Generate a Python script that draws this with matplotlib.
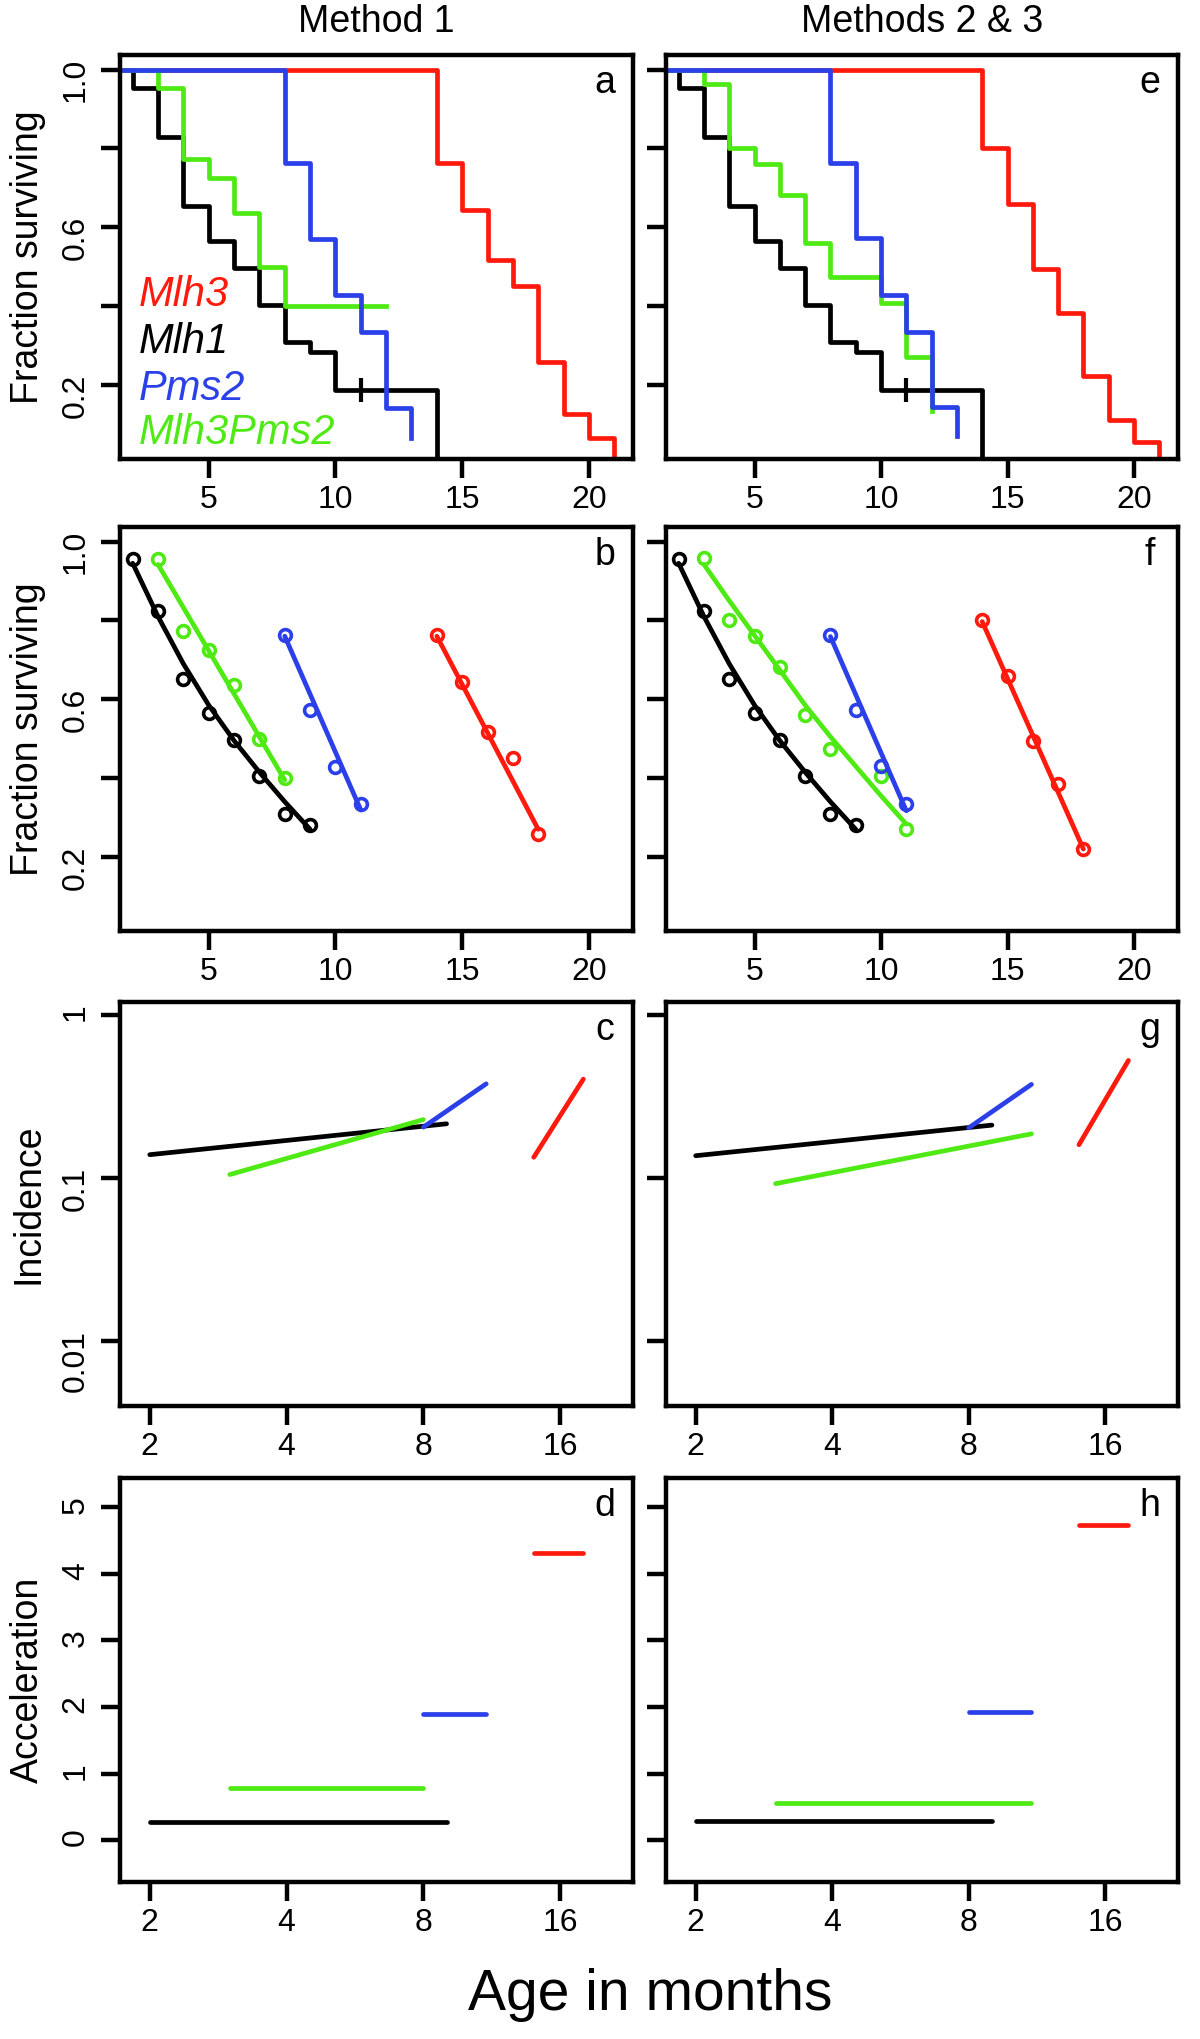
import matplotlib
matplotlib.use('Agg')
import matplotlib.pyplot as plt

plt.rcParams['font.family'] = ['Liberation Sans', 'DejaVu Sans']

RED = '#FF1A0D'
BLACK = '#000000'
BLUE = '#2B40E8'
GREEN = '#4FEA14'

# survival steps, Method 1 (panel a)
a_mlh3_t = [0, 14, 15, 16, 17, 18, 19, 20, 21]
a_mlh3_s = [1.0, 0.763, 0.643, 0.517, 0.452, 0.258, 0.126, 0.066, 0.0]
a_mlh1_t = [0, 2, 3, 4, 5, 6, 7, 8, 9, 10, 14]
a_mlh1_s = [1.0, 0.954, 0.828, 0.655, 0.566, 0.496, 0.403, 0.309, 0.283, 0.187, 0.0]
a_pms2_t = [0, 8, 9, 10, 11, 12, 13]
a_pms2_s = [1.0, 0.763, 0.571, 0.428, 0.334, 0.141, 0.066]
a_dbl_t = [0, 3, 4, 5, 6, 7, 8, 12]
a_dbl_s = [1.0, 0.954, 0.773, 0.726, 0.637, 0.499, 0.40, 0.40]

# survival steps, Methods 2 & 3 (panel e)
e_mlh3_t = [0, 14, 15, 16, 17, 18, 19, 20, 21]
e_mlh3_s = [1.0, 0.80, 0.66, 0.494, 0.383, 0.222, 0.111, 0.055, 0.0]
e_mlh1_t = a_mlh1_t
e_mlh1_s = a_mlh1_s
e_pms2_t = [0, 8, 9, 10, 11, 12, 13]
e_pms2_s = [1.0, 0.763, 0.573, 0.428, 0.334, 0.145, 0.07]
e_dbl_t = [0, 3, 4, 5, 6, 7, 8, 10, 11, 12]
e_dbl_s = [1.0, 0.963, 0.80, 0.76, 0.683, 0.56, 0.475, 0.407, 0.271, 0.134]
censor_t = 11
censor_s = 0.187

# observed points (panels b, f)
b_mlh3_x = [14, 15, 16, 17, 18]
b_mlh3_y = [0.762, 0.644, 0.516, 0.452, 0.257]
b_mlh1_x = [2, 3, 4, 5, 6, 7, 8, 9]
b_mlh1_y = [0.957, 0.825, 0.652, 0.565, 0.497, 0.406, 0.310, 0.282]
b_pms2_x = [8, 9, 10, 11]
b_pms2_y = [0.762, 0.572, 0.429, 0.333]
b_dbl_x = [3, 4, 5, 6, 7, 8]
b_dbl_y = [0.955, 0.773, 0.726, 0.637, 0.499, 0.399]

f_mlh3_x = [14, 15, 16, 17, 18]
f_mlh3_y = [0.80, 0.659, 0.495, 0.385, 0.22]
f_mlh1_x = b_mlh1_x
f_mlh1_y = b_mlh1_y
f_pms2_x = [8, 9, 10, 11]
f_pms2_y = [0.762, 0.573, 0.431, 0.333]
f_dbl_x = [3, 4, 5, 6, 7, 8, 10, 11]
f_dbl_y = [0.959, 0.80, 0.761, 0.681, 0.56, 0.474, 0.404, 0.27]

# fitted curves (panels b, f)
fit_mlh1_x = [2, 3, 4, 5, 6, 7, 8, 9]
fit_mlh1_y = [0.945, 0.81, 0.69, 0.585, 0.495, 0.415, 0.34, 0.27]
fb_mlh3_x, fb_mlh3_y = [14, 18], [0.76, 0.27]
fb_pms2_x, fb_pms2_y = [8, 11], [0.76, 0.319]
fb_dbl_x, fb_dbl_y = [3, 8], [0.942, 0.395]
ff_mlh3_x, ff_mlh3_y = [14, 18], [0.797, 0.22]
ff_pms2_x, ff_pms2_y = [8, 11], [0.759, 0.317]
ff_dbl_x = [3, 4, 5, 6, 7, 8, 9, 10, 11]
ff_dbl_y = [0.942, 0.85, 0.762, 0.674, 0.585, 0.505, 0.43, 0.355, 0.283]

# incidence (panels c, g), log-log
c_mlh3 = ([14, 18], [0.134, 0.404])
c_mlh1 = ([2, 9], [0.139, 0.215])
c_pms2 = ([8, 11], [0.205, 0.378])
c_dbl = ([3, 8], [0.105, 0.228])
g_mlh3 = ([14, 18], [0.160, 0.526])
g_mlh1 = ([2, 9], [0.137, 0.211])
g_pms2 = ([8, 11], [0.203, 0.375])
g_dbl = ([3, 11], [0.0923, 0.1865])

# acceleration (panels d, h)
d_mlh3 = ([14, 18], 4.32)
d_mlh1 = ([2, 9], 0.27)
d_pms2 = ([8, 11], 1.90)
d_dbl = ([3, 8], 0.78)
h_mlh3 = ([14, 18], 4.73)
h_mlh1 = ([2, 9], 0.29)
h_pms2 = ([8, 11], 1.92)
h_dbl = ([3, 11], 0.55)

legend_names = ['Mlh3', 'Mlh1', 'Pms2', 'Mlh3Pms2']
legend_colors = [RED, BLACK, BLUE, GREEN]
legend_y = [0.428, 0.309, 0.190, 0.079]

W, H = 1200, 2039
fig = plt.figure(figsize=(W / 100, H / 100), dpi=100)

col_x = [120, 666]
col_w = [513, 512]
row_top = [55, 527, 1002, 1478]
row_h = 404

LW = 3.4


def make_ax(col, row):
    left = col_x[col] / W
    bottom = 1 - (row_top[row] + row_h) / H
    ax = fig.add_axes([left, bottom, col_w[col] / W, row_h / H])
    for sp in ax.spines.values():
        sp.set_linewidth(3.2)
    ax.tick_params(width=3.2, length=14, labelsize=23, pad=5)
    ax.tick_params(axis='y', labelrotation=90, pad=7)
    if col == 1:
        ax.tick_params(axis='y', labelleft=False)
    return ax


def panel_letter(ax, s):
    ax.text(1 - 28 / 513, 1 - 28 / row_h, s, transform=ax.transAxes,
            ha='center', va='center', fontsize=27)


def surv_axis(ax):
    ax.set_xlim(1.5, 21.74)
    ax.set_ylim(0.012, 1.037)
    ax.set_xticks([5, 10, 15, 20])
    ax.set_yticks([0.2, 0.4, 0.6, 0.8, 1.0])
    ax.set_yticklabels(['0.2', '', '0.6', '', '1.0'])


def log_axis(ax):
    ax.set_xscale('log', base=2)
    ax.set_yscale('log')
    ax.set_xlim(1.72, 23.15)
    ax.set_ylim(0.004, 1.2)
    ax.set_xticks([2, 4, 8, 16])
    ax.set_xticklabels(['2', '4', '8', '16'])
    ax.set_yticks([0.01, 0.1, 1])
    ax.set_yticklabels(['0.01', '0.1', '1'])
    ax.minorticks_off()


def acc_axis(ax):
    ax.set_xscale('log', base=2)
    ax.set_xlim(1.72, 23.15)
    ax.set_ylim(-0.63, 5.44)
    ax.set_xticks([2, 4, 8, 16])
    ax.set_xticklabels(['2', '4', '8', '16'])
    ax.set_yticks([0, 1, 2, 3, 4, 5])
    ax.minorticks_off()


# ---- row 1: step survival curves
steps = [
    ((a_mlh3_t, a_mlh3_s), (a_mlh1_t, a_mlh1_s), (a_dbl_t, a_dbl_s), (a_pms2_t, a_pms2_s)),
    ((e_mlh3_t, e_mlh3_s), (e_mlh1_t, e_mlh1_s), (e_dbl_t, e_dbl_s), (e_pms2_t, e_pms2_s)),
]
for col in range(2):
    ax = make_ax(col, 0)
    for (t, s), c in zip(steps[col], [RED, BLACK, GREEN, BLUE]):
        ax.step(t, s, where='post', color=c, lw=LW)
    ax.plot([censor_t], [censor_s], marker='|', ms=17, mew=3, color=BLACK)
    surv_axis(ax)
    panel_letter(ax, 'ae'[col])
    if col == 0:
        for name, c, y in zip(legend_names, legend_colors, legend_y):
            ax.text(2.22, y, name, color=c, style='italic', fontsize=30,
                    va='center', ha='left')

# ---- row 2: points with fitted curves
pts = [
    [(b_mlh3_x, b_mlh3_y, fb_mlh3_x, fb_mlh3_y, RED),
     (b_mlh1_x, b_mlh1_y, fit_mlh1_x, fit_mlh1_y, BLACK),
     (b_dbl_x, b_dbl_y, fb_dbl_x, fb_dbl_y, GREEN),
     (b_pms2_x, b_pms2_y, fb_pms2_x, fb_pms2_y, BLUE)],
    [(f_mlh3_x, f_mlh3_y, ff_mlh3_x, ff_mlh3_y, RED),
     (f_mlh1_x, f_mlh1_y, fit_mlh1_x, fit_mlh1_y, BLACK),
     (f_dbl_x, f_dbl_y, ff_dbl_x, ff_dbl_y, GREEN),
     (f_pms2_x, f_pms2_y, ff_pms2_x, ff_pms2_y, BLUE)],
]
for col in range(2):
    ax = make_ax(col, 1)
    for px, py, fx, fy, c in pts[col]:
        ax.plot(fx, fy, color=c, lw=LW, solid_capstyle='round')
        ax.plot(px, py, ls='none', marker='o', ms=8.5, mew=2.6, mfc='none', mec=c)
    surv_axis(ax)
    panel_letter(ax, 'bf'[col])

# ---- row 3: incidence
inc = [[c_mlh3, c_mlh1, c_dbl, c_pms2], [g_mlh3, g_mlh1, g_dbl, g_pms2]]
for col in range(2):
    ax = make_ax(col, 2)
    for (x, y), c in zip(inc[col], [RED, BLACK, GREEN, BLUE]):
        ax.plot(x, y, color=c, lw=LW, solid_capstyle='round')
    log_axis(ax)
    panel_letter(ax, 'cg'[col])

# ---- row 4: acceleration
acc = [[d_mlh3, d_mlh1, d_dbl, d_pms2], [h_mlh3, h_mlh1, h_dbl, h_pms2]]
for col in range(2):
    ax = make_ax(col, 3)
    for (x, v), c in zip(acc[col], [RED, BLACK, GREEN, BLUE]):
        ax.plot(x, [v, v], color=c, lw=LW, solid_capstyle='round')
    acc_axis(ax)
    panel_letter(ax, 'dh'[col])

# column titles and axis labels
fig.text(376 / W, 1 - 22 / H, 'Method 1', ha='center', va='center', fontsize=27)
fig.text(922 / W, 1 - 22 / H, 'Methods 2 & 3', ha='center', va='center', fontsize=27)
for r, lab in enumerate(['Fraction surviving', 'Fraction surviving', 'Incidence', 'Acceleration']):
    fig.text(28 / W, 1 - (row_top[r] + row_h / 2) / H, lab, rotation=90,
             ha='center', va='center', fontsize=27)
fig.text(650 / W, 1 - 1995 / H, 'Age in months', ha='center', va='center', fontsize=41)

fig.savefig('out.png', dpi=100)
